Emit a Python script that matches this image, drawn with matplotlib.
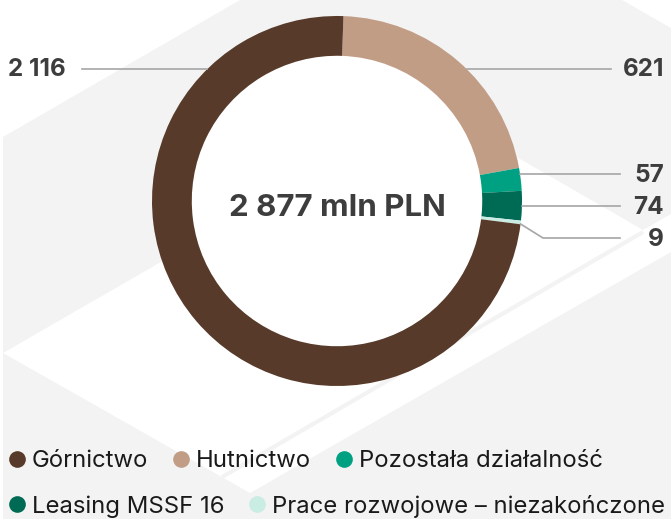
import numpy as np
import matplotlib.pyplot as plt
from matplotlib.patches import Polygon, Circle
from matplotlib.lines import Line2D

## Data
labels = ["Górnictwo", "Hutnictwo", "Pozostała działalność", "Leasing MSSF 16",
          "Prace rozwojowe – niezakończone"]
values = [2116, 621, 57, 74, 9]
colors = ["#573a29", "#c19d86", "#00a182", "#006b55", "#c9ece3"]
unit = "mln PLN"

total = sum(values)

def fmt(v):
    return f"{v:,}".replace(",", " ")

W, H = 671, 519
fig = plt.figure(figsize=(W / 100, H / 100), dpi=100)

## Background with light isometric shapes (pixel coordinates)
bg = fig.add_axes([0, 0, 1, 1], zorder=0)
bg.set_xlim(0, W)
bg.set_ylim(H, 0)
bg.axis("off")
bg.add_patch(Polygon([(0, 0), (W, 0), (W, H), (0, H)], color="#f3f3f3", lw=0))
bg.add_patch(Polygon([(0, 0), (240, 0), (3, 137), (3, H), (0, H)], color="white", lw=0))
bg.add_patch(Polygon([(622, 0), (W, 0), (W, 28)], color="white", lw=0))
bg.add_patch(Polygon([(3, 353), (430, 107), (643, 230), (W, 214), (W, 252), (250, 493)],
                     color="white", lw=0))
bg.plot([222, 643], [477, 232], color="#f3f3f3", lw=3, solid_capstyle="butt")

## Donut
cx, cy, R = 337, 201, 185
pie_ax = fig.add_axes([(cx - R) / W, (H - cy - R) / H, 2 * R / W, 2 * R / H], zorder=1)
order = np.roll(np.arange(len(values)), -1)
pie_ax.pie([values[i] for i in order], colors=[colors[i] for i in order],
           startangle=88, counterclock=False, radius=1,
           wedgeprops=dict(width=0.215, linewidth=0))
pie_ax.add_patch(Circle((0, 0), 1 - 0.215, color="white", lw=0, zorder=0))
pie_ax.set_xlim(-1, 1)
pie_ax.set_ylim(-1, 1)
pie_ax.axis("off")

## Labels and leader lines
top = fig.add_axes([0, 0, 1, 1], zorder=2)
top.set_xlim(0, W)
top.set_ylim(H, 0)
top.axis("off")
top.patch.set_alpha(0)

def edge_x(y, side):
    return cx + side * np.sqrt(R ** 2 - (y - cy) ** 2)

lc = "#a6a6a6"
num_style = dict(fontsize=17.5, fontweight="bold", color="#3d3d3d", family="Inter", va="center")

# Górnictwo (left)
top.plot([82, edge_x(69, -1)], [69, 69], color=lc, lw=1.2)
top.text(8, 70, fmt(values[0]), ha="left", **num_style)
# Hutnictwo
top.plot([edge_x(69, 1), 611], [69, 69], color=lc, lw=1.2)
top.text(664, 70, fmt(values[1]), ha="right", **num_style)
# Pozostała działalność
top.plot([edge_x(174, 1), 620], [174, 174], color=lc, lw=1.2)
top.text(664, 175, fmt(values[2]), ha="right", **num_style)
# Leasing MSSF 16
top.plot([edge_x(206, 1), 620], [206, 206], color=lc, lw=1.2)
top.text(664, 207, fmt(values[3]), ha="right", **num_style)
# Prace rozwojowe
top.plot([edge_x(224, 1), 543, 620], [224, 238, 238], color=lc, lw=1.2)
top.text(664, 239, fmt(values[4]), ha="right", **num_style)

top.text(cx, 208, f"{fmt(total)} {unit}", ha="center", va="center",
         fontsize=22.5, fontweight="bold", color="#3d3d3d", family="Inter")

## Legend in two rows
handles = [Line2D([], [], marker="o", ls="", markersize=12, markerfacecolor=c,
                  markeredgewidth=0) for c in colors]
leg_kw = dict(frameon=False, handlelength=0.65, handletextpad=0.3, columnspacing=1.05,
              borderpad=0, borderaxespad=0, loc="center left",
              prop=dict(family="Inter", size=17.2))
leg1 = fig.legend(handles[:3], labels[:3], ncol=3, bbox_to_anchor=(9 / W, 1 - 461 / H), **leg_kw)
leg2 = fig.legend(handles[3:], labels[3:], ncol=2, bbox_to_anchor=(9 / W, 1 - 506 / H), **leg_kw)
for leg in (leg1, leg2):
    for t in leg.get_texts():
        t.set_color("#1a1a1a")

fig.savefig("out.png", dpi=100)
